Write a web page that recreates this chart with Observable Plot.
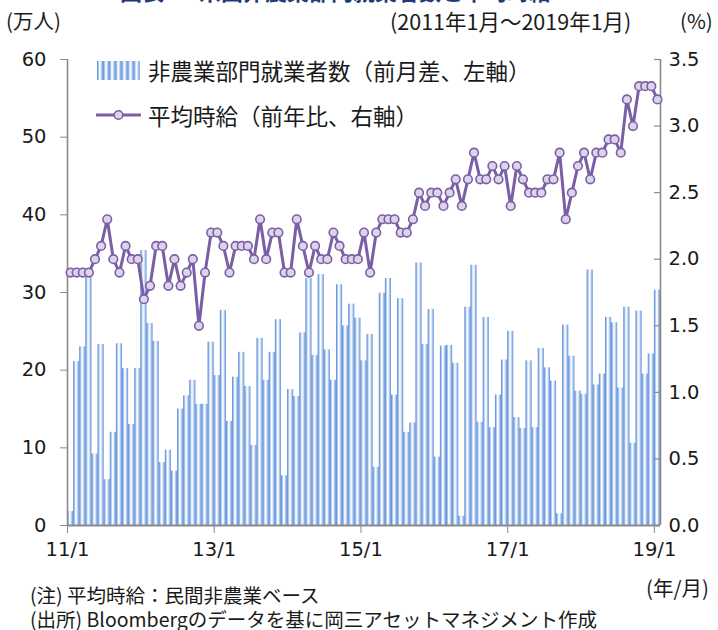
<!DOCTYPE html>
<html><head><meta charset="utf-8">
<script src="https://cdn.jsdelivr.net/npm/d3@7"></script>
<script src="https://cdn.jsdelivr.net/npm/@observablehq/plot@0.6"></script>
<style>
body{margin:0;background:#fff;}
#wrap{position:relative;width:718px;height:630px;overflow:hidden;font-family:"Noto Sans CJK JP","DejaVu Sans",sans-serif;color:#1a1a1a;}
.t{position:absolute;white-space:nowrap;line-height:1;}
#chart{position:absolute;left:0;top:0;}
</style></head><body>
<div id="wrap">
  <div id="chart"></div>
  <div class="t" style="left:120px;top:-21px;font-size:22px;font-weight:bold;color:#1f3a7a;">図表2：米国非農業部門就業者数と平均時給</div>
  <div class="t" style="left:6px;top:10px;font-size:20.5px;">(万人)</div>
  <div class="t" style="left:390px;top:10px;font-size:21.5px;">(2011年1月～2019年1月)</div>
  <div class="t" style="left:680px;top:10px;font-size:20.5px;">(%)</div>
  <svg class="t" style="left:96px;top:61px;" width="46" height="20" id="legBar"></svg>
  <div class="t" style="left:148px;top:59px;font-size:22.5px;">非農業部門就業者数（前月差、左軸）</div>
  <svg class="t" style="left:95px;top:106px;" width="48" height="18">
    <line x1="1" y1="9" x2="46" y2="9" stroke="#7b5fa6" stroke-width="3"/>
    <circle cx="23.5" cy="9" r="4.3" fill="#dcd4e8" stroke="#7b5fa6" stroke-width="1.6"/>
  </svg>
  <div class="t" style="left:148px;top:104px;font-size:22.5px;">平均時給（前年比、右軸）</div>
  <div class="t" style="left:646px;top:577px;font-size:20.5px;">(年/月)</div>
  <div class="t" style="left:30px;top:585px;font-size:19.5px;">(注) 平均時給：民間非農業ベース</div>
  <div class="t" style="left:30px;top:609px;font-size:19.5px;">(出所) Bloombergのデータを基に岡三アセットマネジメント作成</div>
</div>
<script>
// Nonfarm payrolls, month-over-month change (10k persons), 2011/1 - 2019/1
const payrolls = [
  1.8, 21.1, 23.0, 32.0, 9.2, 23.3, 5.9, 12.0, 23.4, 20.2, 13.0, 20.2,
  35.4, 26.0, 23.7, 8.1, 9.7, 7.0, 15.0, 16.7, 18.7, 15.6, 15.6, 23.6,
  19.3, 27.7, 13.4, 19.1, 22.3, 17.9, 10.3, 24.1, 18.7, 22.3, 26.5, 6.4,
  17.5, 16.6, 24.8, 31.8, 21.9, 32.3, 22.6, 18.7, 31.0, 25.7, 28.5, 26.7,
  21.2, 24.6, 7.5, 29.9, 31.8, 16.8, 29.2, 12.0, 13.2, 33.8, 23.3, 27.8,
  8.8, 23.1, 23.2, 20.9, 1.2, 28.1, 33.5, 13.3, 26.8, 12.6, 16.8, 21.3,
  25.0, 13.9, 12.5, 21.2, 12.6, 22.8, 20.3, 18.6, 1.5, 25.8, 21.8, 17.3,
  16.9, 32.9, 18.1, 19.5, 26.8, 26.1, 17.7, 28.1, 10.6, 27.6, 19.5, 22.1,
  30.3
];
// Average hourly earnings, YoY (%)
const wages = [
  1.9, 1.9, 1.9, 1.9, 2.0, 2.1, 2.3, 2.0, 1.9, 2.1, 2.0, 2.0,
  1.7, 1.8, 2.1, 2.1, 1.8, 2.0, 1.8, 1.9, 2.0, 1.5, 1.9, 2.2,
  2.2, 2.1, 1.9, 2.1, 2.1, 2.1, 2.0, 2.3, 2.0, 2.2, 2.2, 1.9,
  1.9, 2.3, 2.1, 1.9, 2.1, 2.0, 2.0, 2.2, 2.1, 2.0, 2.0, 2.0,
  2.2, 1.9, 2.2, 2.3, 2.3, 2.3, 2.2, 2.2, 2.3, 2.5, 2.4, 2.5,
  2.5, 2.4, 2.5, 2.6, 2.4, 2.6, 2.8, 2.6, 2.6, 2.7, 2.6, 2.7,
  2.4, 2.7, 2.6, 2.5, 2.5, 2.5, 2.6, 2.6, 2.8, 2.3, 2.5, 2.7,
  2.8, 2.6, 2.8, 2.8, 2.9, 2.9, 2.8, 3.2, 3.0, 3.3, 3.3, 3.3,
  3.2
];
const years = [2011, 2012, 2013, 2014, 2015, 2016, 2017, 2018, 2019];
const monthLabels = [];
for (const y of years) for (let m = 1; m <= 12; m++) if (monthLabels.length < payrolls.length) monthLabels.push(`${String(y % 100).padStart(2, "0")}/${m}`);
const xTickLabels = ["11/1", "13/1", "15/1", "17/1", "19/1"];
const leftTicks = [0, 10, 20, 30, 40, 50, 60];
const rightTicks = [0, 0.5, 1.0, 1.5, 2.0, 2.5, 3.0, 3.5];
const leftMax = 60, rightMax = 3.5;

const data = monthLabels.map((label, i) => ({i, label, nfp: payrolls[i], ahe: wages[i]}));
const toLeft = v => v * leftMax / rightMax;
const xTicks = xTickLabels.map(l => monthLabels.indexOf(l));
const axisGray = "#8a8a8a";
const purple = "#7b5fa6";

const chart = Plot.plot({
  width: 718, height: 630,
  marginLeft: 67, marginRight: 58, marginTop: 59, marginBottom: 105,
  style: {fontFamily: '"DejaVu Sans","Noto Sans CJK JP",sans-serif', fontSize: "19.5px", color: "#1a1a1a", background: "transparent", overflow: "visible"},
  x: {type: "linear", domain: [0, monthLabels.length], axis: null},
  y: {domain: [0, leftMax], axis: null},
  marks: [
    Plot.rectY(data, {x1: d => d.i, x2: d => d.i + 1, y: "nfp", fill: "#5b8fd9"}),
    Plot.ruleX([0], {stroke: axisGray, strokeWidth: 1.6}),
    Plot.ruleX([monthLabels.length], {stroke: axisGray, strokeWidth: 1.6}),
    Plot.ruleY([0], {stroke: axisGray, strokeWidth: 1.8}),
    Plot.axisY(leftTicks, {anchor: "left", label: null, tickSize: 7, tickPadding: 14, stroke: axisGray, fill: "#1a1a1a"}),
    Plot.axisY(rightTicks.map(toLeft), {anchor: "right", label: null, tickSize: 0, tickPadding: 8, fill: "#1a1a1a", tickFormat: d => (d * rightMax / leftMax).toFixed(1)}),
    Plot.ruleY(rightTicks, {y: toLeft, x1: monthLabels.length - 1, x2: monthLabels.length, stroke: axisGray, strokeWidth: 1.2}),
    Plot.axisX(xTicks, {anchor: "bottom", label: null, tickSize: 8, tickPadding: 9, stroke: axisGray, fill: "#1a1a1a", tickFormat: i => monthLabels[i]}),
    Plot.line(data, {x: d => d.i + 0.5, y: d => toLeft(d.ahe), stroke: purple, strokeWidth: 3, strokeLinejoin: "round"}),
    Plot.dot(data, {x: d => d.i + 0.5, y: d => toLeft(d.ahe), r: 4.3, fill: "#dcd4e8", stroke: purple, strokeWidth: 1.6})
  ]
});
document.getElementById("chart").appendChild(chart);

// gradient definition for the striped bars
const defs = d3.select(chart).insert("defs", ":first-child");
const grad = defs.append("linearGradient").attr("id", "barGrad").attr("x1", 0).attr("x2", 1).attr("y1", 0).attr("y2", 0);
[["0%", "#4a82d0"], ["18%", "#8fb3e8"], ["42%", "#ffffff"], ["62%", "#e3ecf9"], ["85%", "#8fb1e6"], ["100%", "#5f90da"]]
  .forEach(([o, c]) => grad.append("stop").attr("offset", o).attr("stop-color", c));
d3.select(chart).selectAll("g[aria-label='rect'] rect, g[aria-label='rect']").attr("fill", "url(#barGrad)");

// legend swatch of bars
const leg = d3.select("#legBar");
for (let k = 0; k < 7; k++) leg.append("rect").attr("x", 1 + k * 6.1).attr("y", 0).attr("width", 6.1).attr("height", 19).attr("fill", "url(#barGrad)");
</script>
</body></html>
